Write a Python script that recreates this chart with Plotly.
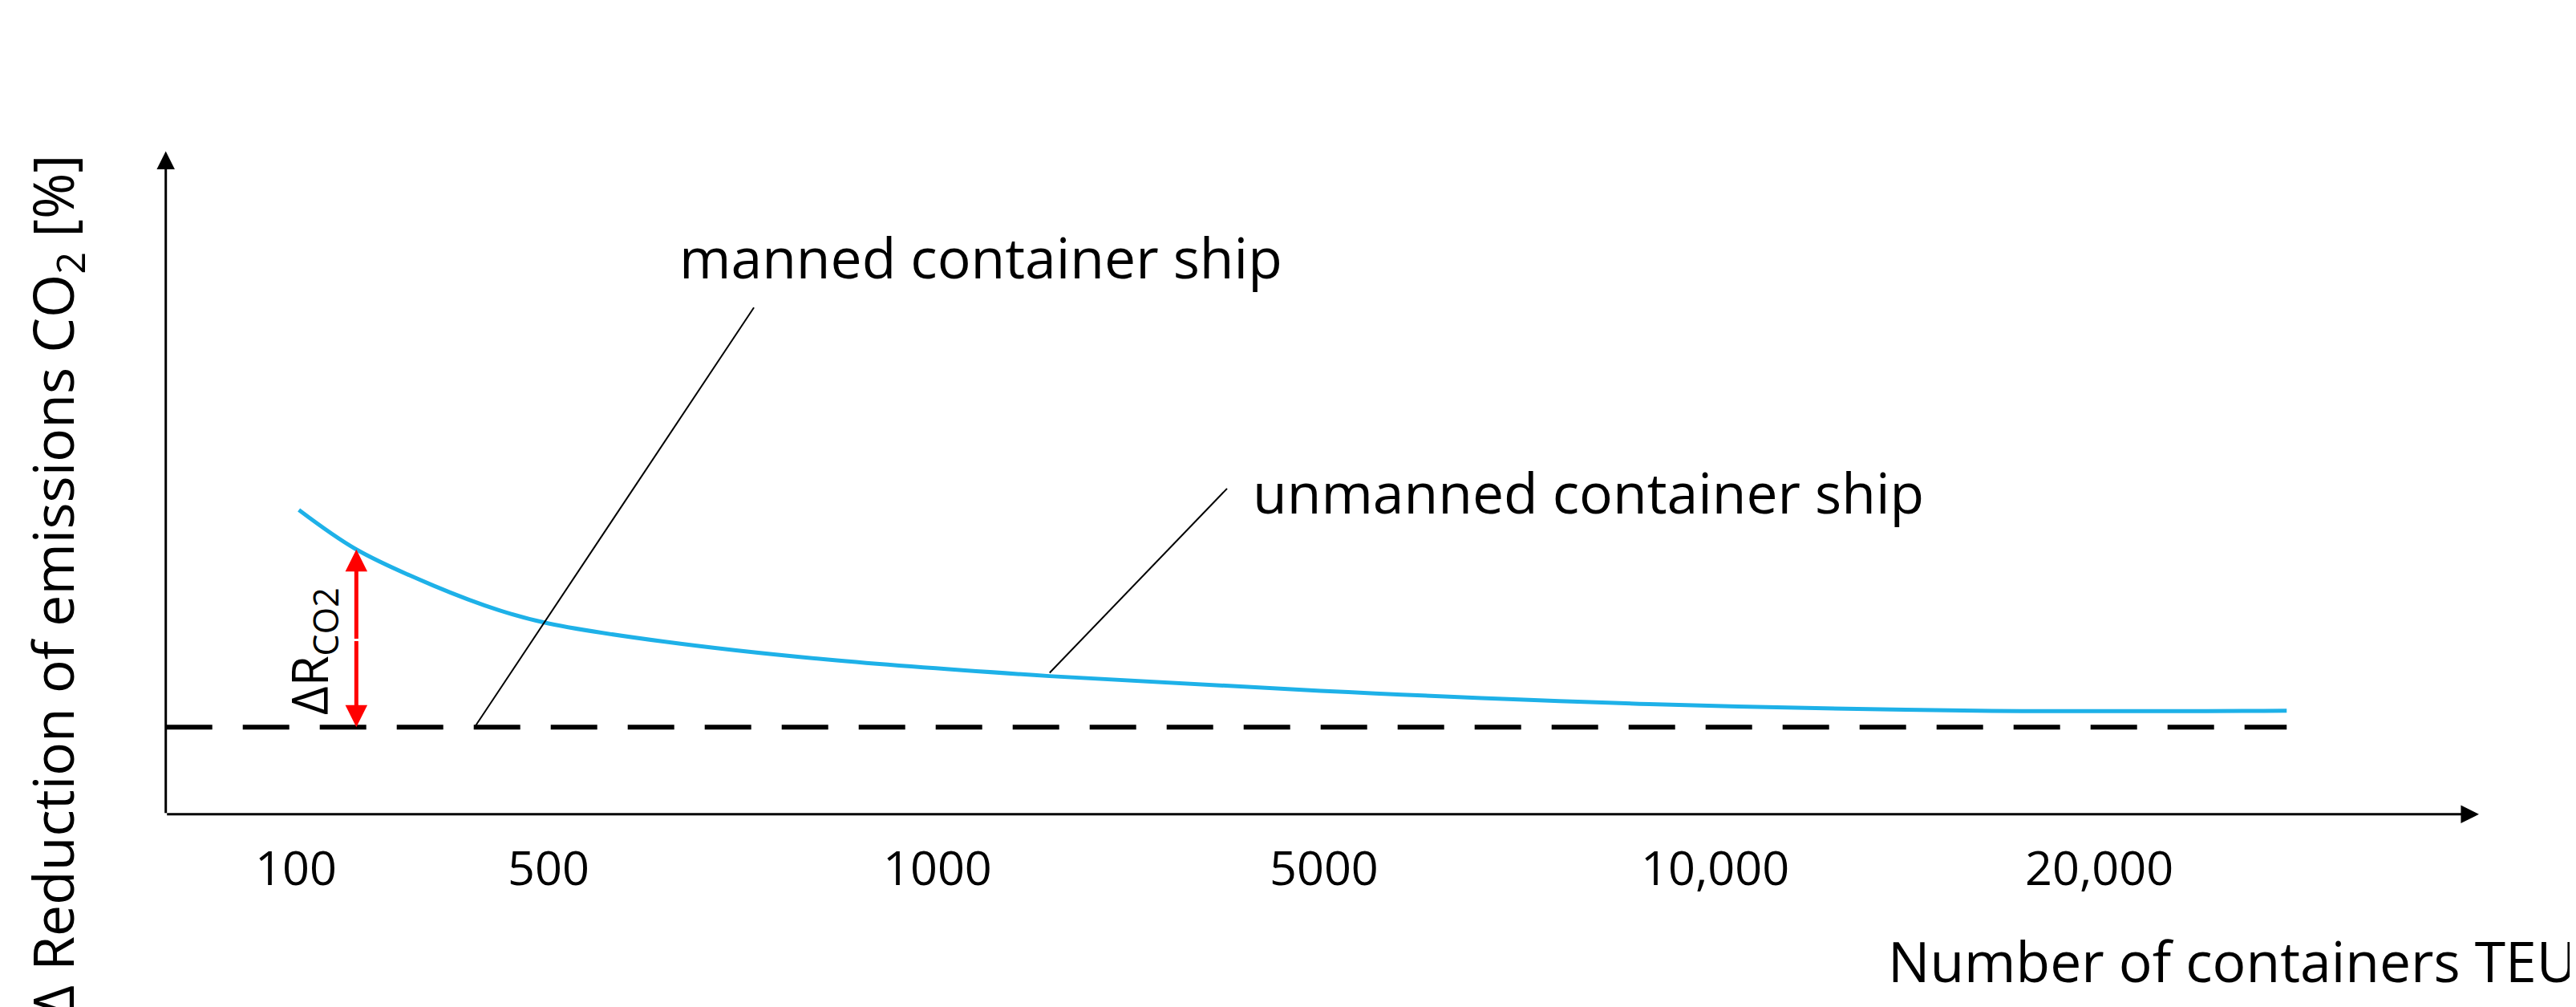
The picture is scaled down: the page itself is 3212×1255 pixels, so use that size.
import plotly.graph_objects as go

# coordinates in reference-image units (1568 x 612 base, scaled to 3212 x 1255)
tick_labels = ["100", "500", "1000", "5000", "10,000", "20,000"]
tick_pos = [176, 330, 567, 802, 1040, 1274]
curve_x = [178, 213, 260, 300, 330, 400, 500, 635, 800, 1000, 1200, 1388]
curve_y = [306, 330, 352, 367, 375, 386, 397, 407, 416, 424, 428, 428]
baseline_x = [97, 1388]
baseline_y = [438, 438]

S = 3212 / 1568
F = "Open Sans"
fig = go.Figure()
fig.add_trace(go.Scatter(x=baseline_x, y=baseline_y, mode="lines",
                         line=dict(color="black", width=6, dash="58px,38px")))
fig.add_trace(go.Scatter(x=curve_x, y=curve_y, mode="lines", line_shape="spline",
                         line=dict(color="#1EB1E8", width=5)))

def arrow(x0, y0, x1, y1, color="black", w=3, head=2, size=1.0):
    fig.add_annotation(x=x1, y=y1, ax=x0, ay=y0, xref="x", yref="y", axref="x", ayref="y",
                       showarrow=True, arrowhead=head, arrowwidth=w, arrowcolor=color,
                       arrowsize=size, text="")

# axes
arrow(97, 491, 1505, 491, size=1.5)
arrow(97, 491, 97, 88, size=1.5)
# red double arrow
arrow(213, 385, 213, 330, color="red", w=5, size=1.1)
arrow(213, 385, 213, 438, color="red", w=5, size=1.1)
# leader lines
fig.add_shape(type="line", x0=455, y0=183, x1=285, y1=438, line=dict(color="black", width=2))
fig.add_shape(type="line", x0=743, y0=293, x1=635, y1=405, line=dict(color="black", width=2))

fs = 34 * S
for lab, p in zip(tick_labels, tick_pos):
    fig.add_annotation(x=p, y=523, text=lab, showarrow=False, font=dict(family=F, size=29 * S, color="black"))
fig.add_annotation(x=593, y=152, text="manned container ship", showarrow=False,
                   font=dict(family=F, size=fs, color="black"))
fig.add_annotation(x=963, y=295, text="unmanned container ship", showarrow=False,
                   font=dict(family=F, size=fs, color="black"))
fig.add_annotation(x=1566, y=580, text="Number of containers TEU", showarrow=False, xanchor="right",
                   font=dict(family=F, size=fs, color="black"))
fig.add_annotation(x=30, y=352, text="Δ Reduction of emissions CO<sub>2</sub> [%]", showarrow=False,
                   textangle=-90, font=dict(family=F, size=34 * S, color="black"))
fig.add_annotation(x=186, y=392, text="ΔR<sub>CO2</sub>", showarrow=False,
                   textangle=-90, font=dict(family=F, size=30 * S, color="black"))

fig.update_layout(width=3212, height=1255, margin=dict(l=0, r=0, t=0, b=0),
                  plot_bgcolor="white", paper_bgcolor="white", showlegend=False,
                  xaxis=dict(range=[0, 1568], visible=False, fixedrange=True),
                  yaxis=dict(range=[612, 0], visible=False, fixedrange=True))
fig.write_html("out.html")
